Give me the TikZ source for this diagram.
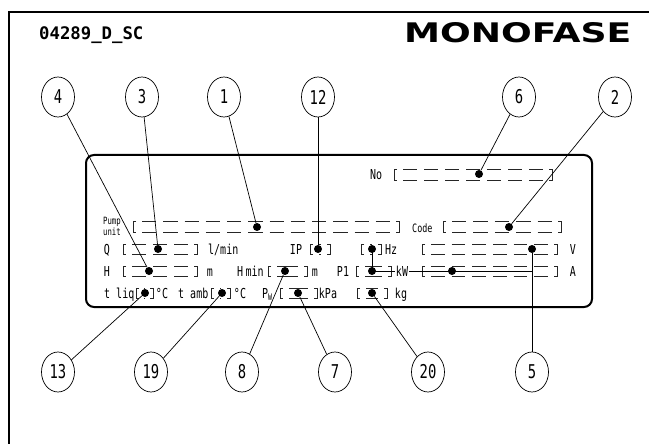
\documentclass[tikz,border=0pt]{standalone}
\usepackage{fontspec}
\usepackage{graphicx}
\setmainfont{Liberation Sans}
\newfontfamily\cadfont[FakeStretch=0.73]{DejaVu Sans Mono}
\newfontfamily\codefont{DejaVu Sans Mono}
\newfontfamily\headfont{DejaVu Sans}
\usetikzlibrary{shapes.geometric}
\newcommand{\panelbox}[4]{%
  \pgfmathsetmacro\pbL{#3-#1-18}%
  \pgfmathsetmacro\pbN{max(1,round((\pbL+7)/22))}%
  \pgfmathsetmacro\pbD{max(1,(\pbL-(\pbN-1)*7)/\pbN)}%
  \draw[boxline] (#1+3,#2) -- (#1,#2) -- (#1,#4) -- (#1+3,#4);
  \draw[boxline] (#3-3,#2) -- (#3,#2) -- (#3,#4) -- (#3-3,#4);
  \draw[boxline,dash pattern=on \pbD pt off 7pt] (#1+9,#2) -- (#3-9,#2);
  \draw[boxline,dash pattern=on \pbD pt off 7pt] (#1+9,#4) -- (#3-9,#4);
}
\begin{document}
\begin{tikzpicture}[x=1pt,y=-1pt,
  boxline/.style={line width=0.8pt,black!85},
  lead/.style={line width=0.7pt},
  dot/.style={circle,fill=black,inner sep=0pt,minimum size=8pt},
  callout/.style={ellipse,draw,line width=0.7pt,minimum width=33pt,minimum height=40pt,inner sep=0pt,font=\cadfont\fontsize{19}{19}\selectfont},
  lbl/.style={inner sep=0pt,anchor=base west,font=\cadfont\fontsize{13.7}{14}\selectfont},
  lblc/.style={inner sep=0pt,anchor=base,font=\cadfont\fontsize{13.7}{14}\selectfont},
  tiny/.style={inner sep=0pt,anchor=base west,font=\cadfont\fontsize{10}{10}\selectfont},
]
\useasboundingbox (0,0) rectangle (649,444);
\fill[white] (0,0) rectangle (649,444);
% outer frame
\draw[line width=2pt] (9,446) -- (9,12) -- (651,12);
% header
\node[inner sep=0pt,anchor=base west,font=\codefont\bfseries\fontsize{17.3}{18}\selectfont] (title) at (39,40) {04289\_D\_SC};
\node[inner sep=0pt,anchor=base west] (mono) at (404,43) {\resizebox{227pt}{20pt}{\headfont\bfseries MONOFASE}};
% panel
\draw[line width=2pt,rounded corners=8pt] (86,155) rectangle (592,307);
% boxes
\panelbox{394}{169}{552}{180}
\panelbox{133}{221}{399}{232}
\panelbox{443}{221}{561}{232}
\panelbox{123}{244}{197}{254}
\panelbox{310}{244}{330}{254}
\panelbox{361}{244}{381}{254}
\panelbox{422}{244}{557}{254}
\panelbox{123}{266}{197}{276}
\panelbox{268}{266}{307}{276}
\panelbox{356}{266}{391}{276}
\panelbox{422}{266}{557}{276}
\panelbox{136}{288}{153}{298}
\panelbox{211}{288}{230}{298}
\panelbox{280}{288}{317}{298}
\panelbox{357}{288}{387}{298}
% labels
\node[lbl] (tNo) at (370,179) {No};
\node[tiny] (tPump) at (103,224) {Pump};
\node[tiny] (tUnit) at (103,235) {unit};
\node[inner sep=0pt,anchor=base west,font=\cadfont\fontsize{11.5}{12}\selectfont] (tCode) at (412,233) {Code};
\node[lblc] (tQ) at (107,254) {Q};
\node[lbl] (tLmin) at (208,254) {l/min};
\node[lblc] (tIP) at (296,254) {IP};
\node[lbl] (tHz) at (385,254) {Hz};
\node[lblc] (tV) at (573,254) {V};
\node[lblc] (tH) at (107,276) {H};
\node[lblc] (tM1) at (210,276) {m};
\node[lbl] (tHmin) at (237,276) {H\,min};
\node[lblc] (tM2) at (315,276) {m};
\node[lblc] (tP1) at (343,276) {P1};
\node[lblc] (tA) at (573,276) {A};
\node[lbl] (tTliq) at (104,298) {t liq};
\node[lblc] (tC1) at (162,298) {°C};
\node[lbl] (tTamb) at (178,298) {t amb};
\node[lblc] (tC2) at (240,298) {°C};
\node[lbl] (tPw) at (262,298) {P\raisebox{-2pt}{\fontsize{9}{9}\selectfont W}};
\node[lblc] (tKPa) at (328,298) {kPa};
\node[lblc] (tKg) at (401,298) {kg};
% dots
\node[dot] (dNo) at (479,174) {};
\node[dot] (dPump) at (257,227) {};
\node[dot] (dCode) at (509,227) {};
\node[dot] (dQ) at (158,249) {};
\node[dot] (dIP) at (318,249) {};
\node[dot] (dHz) at (372,249) {};
\node[dot] (dV) at (532,249) {};
\node[dot] (dH) at (149,271) {};
\node[dot] (dHmin) at (285,271) {};
\node[dot] (dP1) at (372,271) {};
\node[dot] (dA) at (452,271) {};
\node[dot] (dTliq) at (145,293) {};
\node[dot] (dTamb) at (222,293) {};
\node[dot] (dPw) at (298,293) {};
\node[dot] (dKg) at (372,293) {};
\coordinate (jA) at (532,271);
% callouts
\node[callout] (c4) at (58,97) {4};
\node[callout] (c3) at (142,97) {3};
\node[callout] (c1) at (224,97) {1};
\node[callout] (c12) at (318,97) {12};
\node[callout] (c6) at (519,97) {6};
\node[callout] (c2) at (615,97) {2};
\node[callout] (c13) at (58,372) {13};
\node[callout] (c19) at (151,372) {19};
\node[callout] (c8) at (242,372) {8};
\node[callout] (c7) at (335,372) {7};
\node[callout] (c20) at (428,372) {20};
\node[callout] (c5) at (532,372) {5};
% leaders
\draw[lead] (c4) -- (dH);
\draw[lead] (c3) -- (dQ);
\draw[lead] (c1) -- (dPump);
\draw[lead] (c12) -- (dIP);
\draw[lead] (c6) -- (dNo);
\draw[lead] (c2) -- (dCode);
\draw[lead] (c13) -- (dTliq);
\draw[lead] (c19) -- (dTamb);
\draw[lead] (c8) -- (dHmin);
\draw[lead] (c7) -- (dPw);
\draw[lead] (c20) -- (dKg);
\draw[lead] (c5) -- (dV);
\draw[lead] (dHz.center) -- (dP1.center) -- (jA);
\node[lblc,fill=white,inner xsep=1pt] (tKW) at (402,276) {kW};
\end{tikzpicture}
\end{document}
